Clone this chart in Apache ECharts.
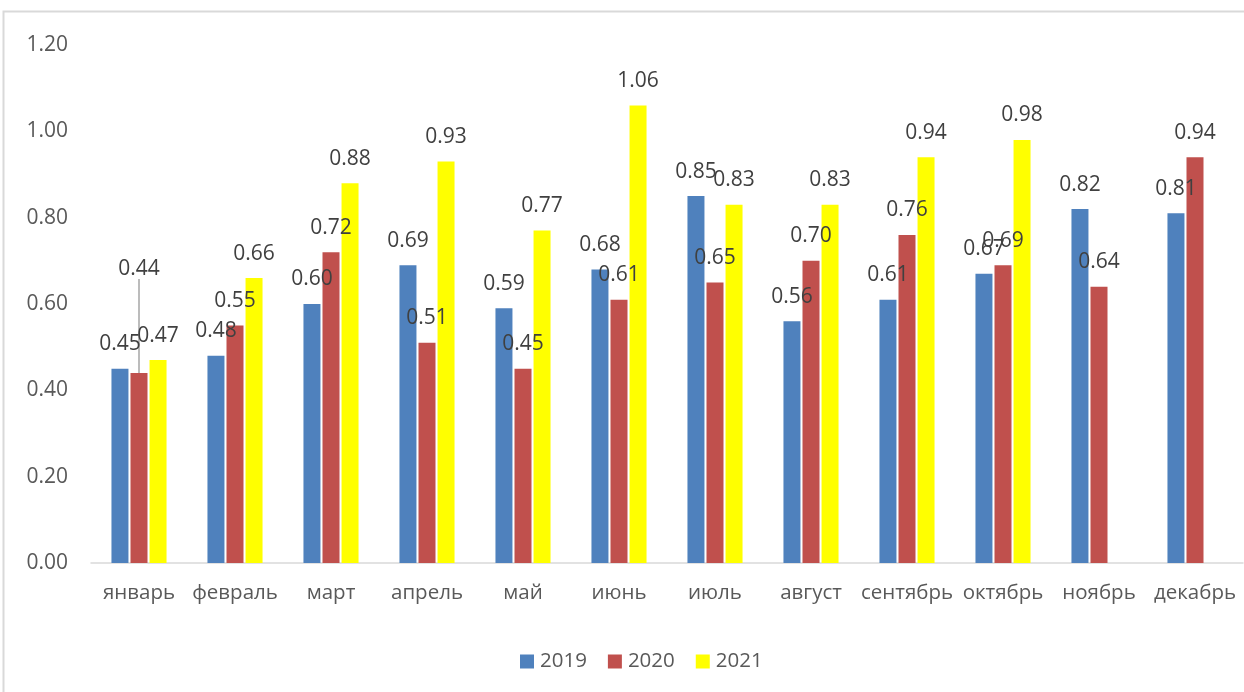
<!DOCTYPE html>
<html>
<head>
<meta charset="utf-8">
<script src="https://cdn.jsdelivr.net/npm/echarts@6/dist/echarts.min.js"></script>
<style>
  html, body { margin: 0; padding: 0; background: #ffffff; }
  #chart { width: 1244px; height: 692px; }
</style>
</head>
<body>
<div id="chart"></div>
<script>
const months = ['январь', 'февраль', 'март', 'апрель', 'май', 'июнь', 'июль', 'август', 'сентябрь', 'октябрь', 'ноябрь', 'декабрь'];
const seriesNames = ['2019', '2020', '2021'];
const values2019 = [0.45, 0.48, 0.60, 0.69, 0.59, 0.68, 0.85, 0.56, 0.61, 0.67, 0.82, 0.81];
const values2020 = [0.44, 0.55, 0.72, 0.51, 0.45, 0.61, 0.65, 0.70, 0.76, 0.69, 0.64, 0.94];
const values2021 = [0.47, 0.66, 0.88, 0.93, 0.77, 1.06, 0.83, 0.83, 0.94, 0.98, null, null];
const yTicks = [0, 0.2, 0.4, 0.6, 0.8, 1.0, 1.2];

const colors = ['#4F81BD', '#C0504D', '#FFFF00'];
const FONT = 'Open Sans';

const chart = echarts.init(document.getElementById('chart'), null, { renderer: 'canvas' });

function makeSeries(name, vals, idx) {
  const data = vals.map(function (v, i) {
    if (idx === 1 && i === 0) {
      return { value: v, labelLine: { show: true, lineStyle: { color: '#a6a6a6', width: 1.5 } } };
    }
    return v;
  });
  return {
    name: name,
    type: 'bar',
    data: data,
    barWidth: 17,
    barGap: '12%',
    itemStyle: { color: colors[idx] },
    label: {
      show: true,
      position: 'top',
      distance: 14,
      fontFamily: FONT,
      fontSize: 21,
      color: '#404040',
      formatter: function (p) { return p.value == null ? '' : Number(p.value).toFixed(2); }
    },
    labelLayout: function (params) {
      if (idx === 1 && params.dataIndex === 0) {
        return { dy: -80 };
      }
      return {};
    },
    emphasis: { disabled: true }
  };
}

chart.setOption({
  animation: false,
  backgroundColor: '#ffffff',
  graphic: [{
    type: 'rect',
    shape: { x: 3.5, y: 11.5, width: 1300, height: 720 },
    style: { fill: 'none', stroke: '#d9d9d9', lineWidth: 2 },
    silent: true
  }],
  grid: { left: 91, right: 1, top: 45, bottom: 129, containLabel: false },
  legend: {
    data: seriesNames,
    bottom: 15,
    left: 515,
    icon: 'rect',
    itemWidth: 14,
    itemHeight: 14,
    itemGap: 21,
    textStyle: { fontFamily: FONT, fontSize: 20.5, color: '#595959', padding: [0, 0, 0, 1] }
  },
  xAxis: {
    type: 'category',
    data: months,
    axisLine: { show: true, lineStyle: { color: '#d9d9d9', width: 1.5 } },
    axisTick: { show: false },
    axisLabel: { fontFamily: FONT, fontSize: 20.5, color: '#595959', margin: 20, interval: 0 }
  },
  yAxis: {
    type: 'value',
    min: yTicks[0],
    max: yTicks[yTicks.length - 1],
    interval: 0.2,
    splitLine: { show: false },
    axisLine: { show: false },
    axisTick: { show: false },
    axisLabel: {
      fontFamily: FONT, fontSize: 21, color: '#595959', margin: 23,
      formatter: function (v) { return v.toFixed(2); }
    }
  },
  series: [
    makeSeries(seriesNames[0], values2019, 0),
    makeSeries(seriesNames[1], values2020, 1),
    makeSeries(seriesNames[2], values2021, 2)
  ]
});
</script>
</body>
</html>
